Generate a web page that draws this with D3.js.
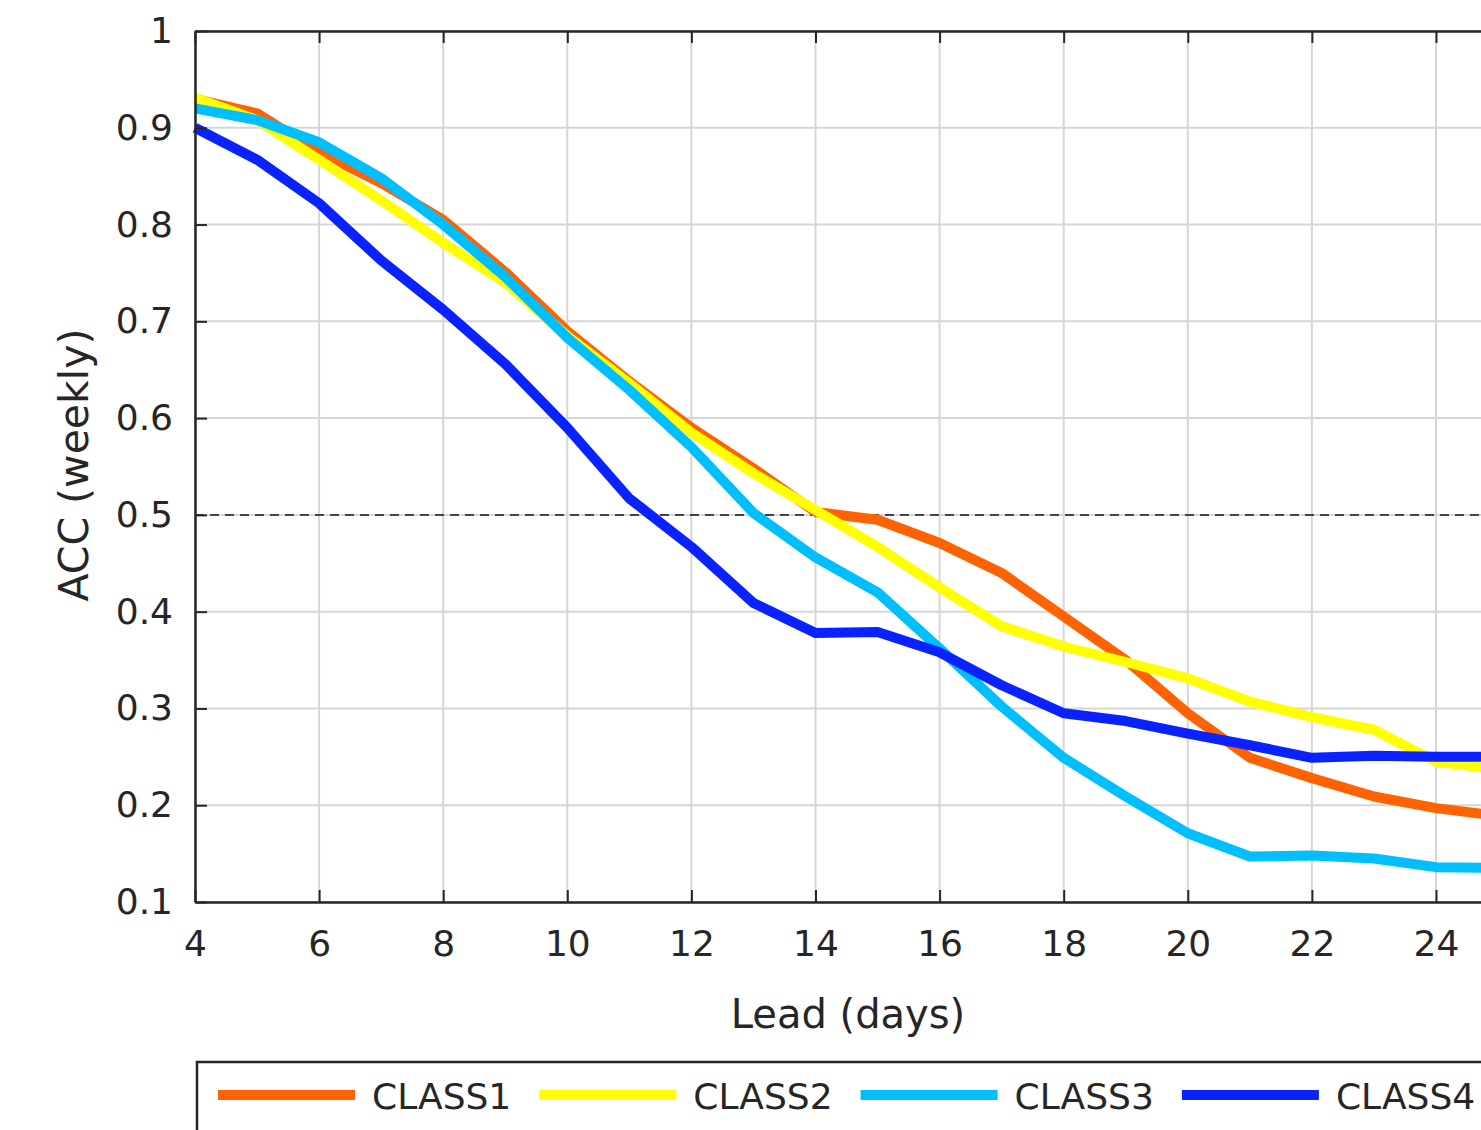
<!DOCTYPE html>
<html>
<head>
<meta charset="utf-8">
<script src="https://cdn.jsdelivr.net/npm/d3@7"></script>
<style>
  body { margin: 0; background: #fff; }
  svg { display: block; }
  text { font-family: "DejaVu Sans", sans-serif; fill: #262626; }
</style>
</head>
<body>
<div id="chart"></div>
<script>
// lead days and ACC per class
var days = [4, 5, 6, 7, 8, 9, 10, 11, 12, 13, 14, 15, 16, 17, 18, 19, 20, 21, 22, 23, 24, 25];
var class1 = [0.930, 0.915, 0.875, 0.843, 0.805, 0.751, 0.690, 0.638, 0.590, 0.548, 0.503, 0.495, 0.471, 0.440, 0.395, 0.350, 0.295, 0.249, 0.228, 0.209, 0.197, 0.189];
var class2 = [0.931, 0.908, 0.867, 0.825, 0.781, 0.740, 0.685, 0.636, 0.585, 0.543, 0.505, 0.467, 0.425, 0.385, 0.364, 0.348, 0.331, 0.307, 0.291, 0.278, 0.245, 0.237];
var class3 = [0.920, 0.908, 0.885, 0.848, 0.800, 0.746, 0.683, 0.629, 0.570, 0.502, 0.456, 0.420, 0.362, 0.302, 0.249, 0.209, 0.171, 0.147, 0.148, 0.145, 0.136, 0.135];
var class4 = [0.900, 0.867, 0.822, 0.763, 0.712, 0.656, 0.590, 0.517, 0.467, 0.409, 0.378, 0.379, 0.358, 0.324, 0.295, 0.287, 0.274, 0.262, 0.249, 0.251, 0.250, 0.250];

var names = ["CLASS1", "CLASS2", "CLASS3", "CLASS4"];
var colors = ["#ff6200", "#ffff00", "#00bfff", "#0a22ff"];
var xTicks = [4, 6, 8, 10, 12, 14, 16, 18, 20, 22, 24];
var yTicks = [0.1, 0.2, 0.3, 0.4, 0.5, 0.6, 0.7, 0.8, 0.9, 1];

var width = 1481, height = 1130;
var svg = d3.select("#chart").append("svg")
    .attr("width", width)
    .attr("height", height);

var x = d3.scaleLinear().domain([4, 28]).range([195, 195 + 24 * 62.05]);
var y = d3.scaleLinear().domain([0.1, 1]).range([902, 31]);
var x0 = x.range()[0], x1 = x.range()[1], y0 = y.range()[0], y1 = y.range()[1];

// grid
svg.append("g")
    .selectAll("line")
    .data(xTicks)
    .join("line")
    .attr("x1", d => x(d)).attr("x2", d => x(d))
    .attr("y1", y1).attr("y2", y0)
    .attr("stroke", "#d6d6d6").attr("stroke-width", 2);
svg.append("g")
    .selectAll("line")
    .data(yTicks)
    .join("line")
    .attr("x1", x0).attr("x2", x1)
    .attr("y1", d => y(d)).attr("y2", d => y(d))
    .attr("stroke", "#d6d6d6").attr("stroke-width", 2);

// 0.5 reference line
svg.append("line")
    .attr("x1", x0).attr("x2", x1)
    .attr("y1", y(0.5)).attr("y2", y(0.5))
    .attr("stroke", "#444").attr("stroke-width", 2)
    .attr("stroke-dasharray", "9,6");

// series
var series = [class1, class2, class3, class4];
var line = d3.line().x((d, i) => x(days[i])).y(d => y(d));
svg.append("g")
    .selectAll("path")
    .data(series)
    .join("path")
    .attr("d", d => line(d))
    .attr("fill", "none")
    .attr("stroke", (d, i) => colors[i])
    .attr("stroke-width", 10)
    .attr("stroke-linejoin", "round");

// axes (matlab style: box with inner ticks)
var axBottom = svg.append("g").attr("transform", "translate(0," + y0 + ")")
    .call(d3.axisBottom(x).tickValues(xTicks).tickSizeInner(-12).tickSizeOuter(0).tickPadding(38));
var axTop = svg.append("g").attr("transform", "translate(0," + y1 + ")")
    .call(d3.axisTop(x).tickValues(xTicks).tickSizeInner(-12).tickSizeOuter(0).tickFormat(""));
var axLeft = svg.append("g").attr("transform", "translate(" + x0 + ",0)")
    .call(d3.axisLeft(y).tickValues(yTicks).tickSizeInner(-12).tickSizeOuter(0).tickPadding(22)
        .tickFormat(d => d === 1 ? "1" : d3.format(".1f")(d)));

[axBottom, axTop, axLeft].forEach(g => {
    g.select(".domain").attr("stroke", "#262626").attr("stroke-width", 2.5);
    g.selectAll(".tick line").attr("stroke", "#262626").attr("stroke-width", 2);
    g.selectAll(".tick text").attr("font-size", 36).attr("fill", "#262626")
        .style("font-family", "'DejaVu Sans', sans-serif");
});
axBottom.selectAll(".tick text").attr("dy", "0.45em");

// axis titles
svg.append("text")
    .attr("x", 848).attr("y", 1028)
    .attr("text-anchor", "middle")
    .attr("font-size", 40)
    .text("Lead (days)");
svg.append("text")
    .attr("transform", "translate(88,465) rotate(-90)")
    .attr("text-anchor", "middle")
    .attr("font-size", 41)
    .text("ACC (weekly)");

// legend
var legend = svg.append("g");
legend.append("rect")
    .attr("x", 197).attr("y", 1062)
    .attr("width", 1400).attr("height", 120)
    .attr("fill", "#fff")
    .attr("stroke", "#262626").attr("stroke-width", 2.5);
var items = legend.selectAll("g")
    .data(names)
    .join("g")
    .attr("transform", (d, i) => "translate(" + (218 + i * 321.3) + ",1095)");
items.append("line")
    .attr("x1", 0).attr("x2", 137)
    .attr("stroke", (d, i) => colors[i])
    .attr("stroke-width", 10);
items.append("text")
    .attr("x", 154).attr("y", 14)
    .attr("font-size", 36)
    .text(d => d);
</script>
</body>
</html>
